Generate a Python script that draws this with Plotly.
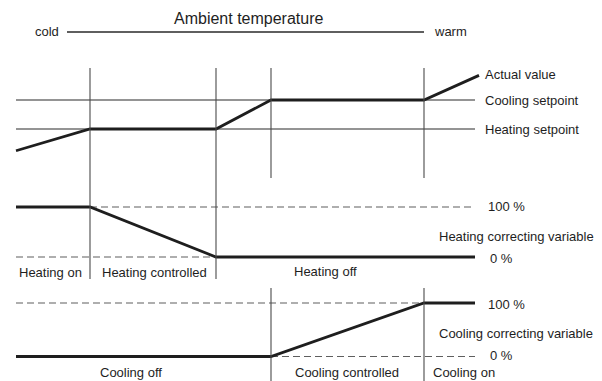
import plotly.graph_objects as go

# ---- data -------------------------------------------------------------
# Ambient temperature runs left (cold) to right (warm), in diagram units.
ambient_start = 16
ambient_end = 475
# Zone boundaries: heating on | heating controlled | dead band | cooling controlled | cooling on
zone_breaks = [90, 216, 271, 424]

# Room temperature (°C, schematic)
heating_setpoint = 20
cooling_setpoint = 24
actual_x = [16, 90, 216, 271, 424, 479]
actual_y = [17.0, 20.0, 20.0, 24.0, 24.0, 27.4]

# Heating correcting variable (%)
heating_x = [16, 90, 216, 475]
heating_y = [100, 100, 0, 0]

# Cooling correcting variable (%)
cooling_x = [16, 271, 424, 475]
cooling_y = [0, 0, 100, 100]

# ---- layout helpers -----------------------------------------------------
W, H = 602, 381
INK = "#1e1e1e"
THIN = "#2a2a2a"
GRID = "#4a4a4a"
DASH = "#5e5e5e"
FONT = "Liberation Sans, Arial, sans-serif"


def axis_range(v1, p1, v2, p2):
    """Range for a full-height axis so value v1 sits p1 px from the top and v2 at p2."""
    s = (p2 - p1) / (v1 - v2)
    return [v1 - (H - p1) / s, v1 + p1 / s]


fig = go.Figure()

thick = dict(color=INK, width=2.8)
thin = dict(color=THIN, width=1.1)
dashed = dict(color=DASH, width=1.1, dash="7px,4px")

# Temperature panel
for sp in (heating_setpoint, cooling_setpoint):
    fig.add_trace(go.Scatter(x=[ambient_start, ambient_end], y=[sp, sp], mode="lines",
                             line=thin, yaxis="y"))
fig.add_trace(go.Scatter(x=actual_x, y=actual_y, mode="lines", line=thick, yaxis="y"))

# Heating correcting variable panel
fig.add_trace(go.Scatter(x=[zone_breaks[0], ambient_end], y=[100, 100], mode="lines",
                         line=dashed, yaxis="y2"))
fig.add_trace(go.Scatter(x=[ambient_start, zone_breaks[1]], y=[0, 0], mode="lines",
                         line=dashed, yaxis="y2"))
fig.add_trace(go.Scatter(x=heating_x, y=heating_y, mode="lines", line=thick, yaxis="y2"))

# Cooling correcting variable panel
fig.add_trace(go.Scatter(x=[ambient_start, zone_breaks[3]], y=[100, 100], mode="lines",
                         line=dashed, yaxis="y3"))
fig.add_trace(go.Scatter(x=[zone_breaks[2], ambient_end], y=[0, 0], mode="lines",
                         line=dashed, yaxis="y3"))
fig.add_trace(go.Scatter(x=cooling_x, y=cooling_y, mode="lines", line=thick, yaxis="y3"))

# Zone divider lines (pixel overlay axis y4)
divider_spans = {
    zone_breaks[0]: [(68, 279)],
    zone_breaks[1]: [(68, 279)],
    zone_breaks[2]: [(68, 178), (288, 381)],
    zone_breaks[3]: [(68, 178), (288, 381)],
}
shapes = []
for xb, spans in divider_spans.items():
    for y0, y1 in spans:
        shapes.append(dict(type="line", xref="x", yref="y4", x0=xb, x1=xb, y0=y0, y1=y1,
                           line=dict(color=GRID, width=1.1)))
# cold --- warm line
shapes.append(dict(type="line", xref="x", yref="y4", x0=67, x1=424, y0=32, y1=32,
                   line=dict(color=THIN, width=1.3)))

labels = [
    ("Ambient temperature", 249, 18, "center", 16),
    ("cold", 33, 31, "left", 13),
    ("warm", 432, 31, "left", 13),
    ("Actual value", 483, 74, "left", 13),
    ("Cooling setpoint", 483, 100, "left", 13),
    ("Heating setpoint", 483, 129, "left", 13),
    ("100 %", 486, 206, "left", 13),
    ("Heating correcting variable", 437, 236, "left", 13),
    ("0 %", 488, 258, "left", 13),
    ("Heating on", 17, 272, "left", 13),
    ("Heating controlled", 100, 272, "left", 13),
    ("Heating off", 325, 271, "center", 13),
    ("100 %", 486, 304, "left", 13),
    ("Cooling correcting variable", 437, 333, "left", 13),
    ("0 %", 488, 355, "left", 13),
    ("Cooling off", 131, 372, "center", 13),
    ("Cooling controlled", 347, 372, "center", 13),
    ("Cooling on", 431, 372, "left", 13),
]
annotations = [
    dict(text=t, x=x, y=y, xref="x", yref="y4", xanchor=a, yanchor="middle",
         showarrow=False, font=dict(family=FONT, size=s, color=INK))
    for t, x, y, a, s in labels
]

hidden = dict(visible=False, showgrid=False, zeroline=False, fixedrange=True)
fig.update_layout(
    width=W, height=H,
    margin=dict(l=0, r=0, t=0, b=0, pad=0),
    paper_bgcolor="white", plot_bgcolor="white",
    showlegend=False, hovermode=False,
    xaxis=dict(range=[0, W], domain=[0, 1], **hidden),
    yaxis=dict(range=axis_range(heating_setpoint, 129, cooling_setpoint, 100), domain=[0, 1], **hidden),
    yaxis2=dict(range=axis_range(100, 207, 0, 257), overlaying="y", **hidden),
    yaxis3=dict(range=axis_range(100, 303, 0, 356.5), overlaying="y", **hidden),
    yaxis4=dict(range=[H, 0], overlaying="y", **hidden),
    shapes=shapes,
    annotations=annotations,
)

fig.write_html("out.html")
